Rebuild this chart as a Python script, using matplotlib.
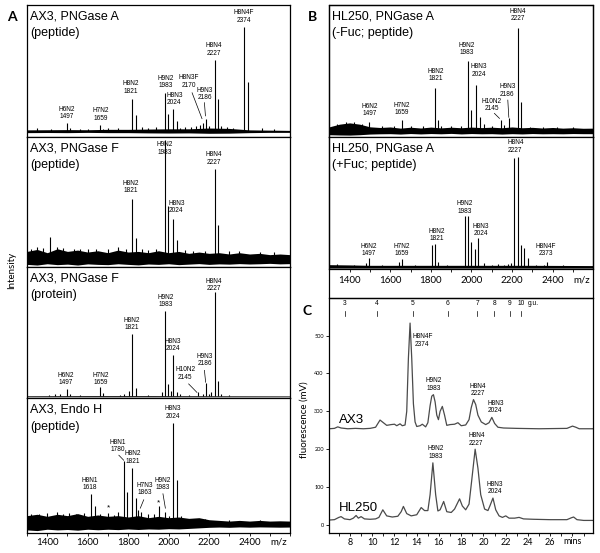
import matplotlib
matplotlib.use("Agg")
import matplotlib.pyplot as plt
from matplotlib.patches import Rectangle

plt.rcParams['font.family'] = ['Lato', 'DejaVu Sans']
plt.rcParams['axes.linewidth'] = 0.9
NARROW = ['Liberation Sans Narrow', 'Liberation Sans', 'DejaVu Sans']

W, H = 600, 553
MZ_LIM = (1300, 2600)
MZ_50 = list(range(1300, 2601, 50))

# ---- mass spectra; heights in % of panel height (0 = bottom frame, 100 = top frame)

# A1: AX3, PNGase A (peptide)
a1_mz = [1350, 1420, 1497, 1513, 1560, 1600, 1659, 1675, 1700, 1750,
         1821, 1837, 1870, 1900, 1940, 1983, 1999, 2024, 2040, 2056,
         2080, 2110, 2137, 2153, 2170, 2186, 2202, 2227, 2243, 2260,
         2290, 2320, 2374, 2390, 2460, 2520]
a1_h = [6.5, 6.2, 10.6, 6.5, 6.4, 6.0, 9.4, 6.2, 6.5, 6.8,
        28.6, 16.5, 7.5, 7.0, 7.5, 33.2, 17.7, 21.0, 12.2, 7.0,
        7.5, 7.2, 8.0, 9.0, 10.6, 13.9, 8.0, 58.2, 29.1, 8.0,
        7.5, 7.0, 83.5, 41.8, 6.5, 6.0]
a1_base = 4.3
a1_noise_mz = [1300, 1400, 1500, 1600, 1700, 1800, 1900, 2000, 2100, 2200, 2300, 2400, 2500, 2600]
a1_noise_lo = [3.3, 3.4, 3.3, 3.5, 3.3, 3.3, 3.1, 3.0, 3.1, 2.8, 2.9, 3.3, 3.5, 3.5]
a1_noise_hi = [5.4, 5.5, 5.6, 5.5, 5.8, 5.8, 6.0, 6.2, 6.2, 6.8, 6.5, 5.4, 5.2, 5.0]
a1_labels = [("H6N2\n1497", 1495, 18.2), ("H7N2\n1659", 1665, 17.0),
             ("H8N2\n1821", 1814, 37.5), ("H9N2\n1983", 1984, 41.5),
             ("H8N3\n2024", 2028, 28.9), ("H8N3F\n2170", 2099, 42.0),
             ("H9N3\n2186", 2177, 32.4), ("H8N4\n2227", 2223, 66.3),
             ("H8N4F\n2374", 2371, 91.1)]
a1_leaders = [((2116, 33.5), (2165, 13.9)), ((2177, 26.0), (2182, 16.0))]
a1_title = ("AX3, PNGase A", "(peptide)")

# A2: AX3, PNGase F (peptide)
a2_mz = [1320, 1350, 1380, 1416, 1450, 1480, 1530, 1560, 1600, 1640,
         1700, 1750, 1790, 1821, 1837, 1870, 1900, 1940, 1983, 1999,
         2024, 2040, 2080, 2120, 2180, 2227, 2243, 2300, 2350, 2450, 2520]
a2_h = [14, 15, 14.5, 23, 15, 14.5, 14, 13.5, 14, 13.5,
        14, 15, 14, 52.6, 22.6, 14, 13, 13.5, 97.4, 46.7,
        37.2, 20.5, 13, 12.5, 12.5, 75.6, 32.6, 12.5, 12, 11.5, 11.5]
a2_base = 7.0
a2_noise_mz = MZ_50
a2_noise_lo = [2, 1.5, 2.5, 1.8, 2.2, 1.5, 2.4, 2, 1.8, 2.5, 2, 1.6, 2.3, 2,
               2.5, 1.8, 2.2, 2.6, 2, 2.4, 2.2, 2.6, 2.3, 2.5, 2.8, 2.4, 2.6]
a2_noise_hi = [12, 13.5, 11, 14, 12, 13, 11.5, 12.5, 11, 13, 11.5, 12, 11, 12.5,
               11, 12, 10.5, 11.5, 10.5, 11, 10, 11, 10, 10.5, 9.5, 10, 9.5]
a2_labels = [("H8N2\n1821", 1814, 61.5), ("H9N2\n1983", 1979, 91.0),
             ("H8N3\n2024", 2038, 46.2), ("H8N4\n2227", 2224, 83.3)]
a2_leaders = []
a2_title = ("AX3, PNGase F", "(peptide)")

# A3: AX3, PNGase F (protein)
a3_mz = [1410, 1437, 1465, 1497, 1513, 1560, 1659, 1675, 1760, 1780,
         1805, 1821, 1837, 1900, 1966, 1983, 1999, 2012, 2024, 2040,
         2056, 2100, 2145, 2170, 2186, 2202, 2211, 2227, 2243, 2260, 2300]
a3_h = [2.0, 2.5, 2.5, 6.5, 3.0, 2.0, 7.8, 3.5, 2.0, 2.5,
        5.0, 48.8, 7.3, 2.0, 4.0, 66.2, 10.0, 5.0, 32.5, 4.0,
        2.5, 2.0, 4.0, 2.5, 11.0, 3.0, 4.0, 80.5, 13.0, 3.0, 1.8]
a3_base = 1.0
a3_noise_mz = [1300, 1600, 1900, 2200, 2600]
a3_noise_lo = [0.6, 0.6, 0.6, 0.6, 0.6]
a3_noise_hi = [1.3, 1.4, 1.4, 1.3, 1.2]
a3_labels = [("H6N2\n1497", 1490, 14.3), ("H7N2\n1659", 1665, 14.3),
             ("H8N2\n1821", 1819, 56.4), ("H9N2\n1983", 1984, 74.0),
             ("H8N3\n2024", 2022, 40.3), ("H10N2\n2145", 2083, 18.2),
             ("H9N3\n2186", 2180, 28.6), ("H8N4\n2227", 2223, 86.2)]
a3_leaders = [((2099, 10.4), (2140, 3.9)), ((2177, 20.8), (2183, 11.7))]
a3_title = ("AX3, PNGase F", "(protein)")

# A4: AX3, Endo H (peptide)
a4_mz = [1320, 1360, 1400, 1450, 1480, 1510, 1540, 1580, 1618, 1634,
         1660, 1701, 1730, 1750, 1780, 1796, 1821, 1837, 1850, 1863,
         1900, 1930, 1950, 1983, 2000, 2024, 2040, 2060, 2100, 2180, 2300, 2450]
a4_h = [14, 14.5, 15, 15.5, 14, 15, 14.5, 15, 29.1, 19.8,
        14.5, 15.3, 13.5, 15.5, 53.1, 30.4, 48.1, 25.9, 17, 16,
        14, 14.5, 19.8, 16, 13, 81.5, 39.5, 13, 10.5, 10.5, 10, 10]
a4_base = 7.4
a4_noise_mz = MZ_50
a4_noise_lo = [2.5, 2, 3, 2.5, 2.8, 2.3, 3, 2.6, 3, 2.7, 3.2, 2.8, 3.2, 3,
               3.4, 3.2, 3.6, 4, 4.4, 4.6, 4.4, 4.7, 4.5, 4.7, 4.6, 4.5, 4.6]
a4_noise_hi = [13, 14, 12.5, 14, 13, 14.5, 12.5, 13.5, 12.5, 13, 12, 13, 11.5, 12.5,
               11.5, 12, 11, 11.5, 10, 9.5, 9, 9.5, 9, 9.5, 9, 9.2, 9]
a4_labels = [("H8N1\n1618", 1610, 36.3), ("H8N1\n1780", 1749, 64.2),
             ("H8N2\n1821", 1824, 56.0), ("H7N3\n1863", 1880, 32.8),
             ("H9N2\n1983", 1972, 36.3), ("H8N3\n2024", 2022, 88.9),
             ("*", 1701, 19.0), ("*", 1948, 22.5)]
a4_leaders = [((1754, 57.5), (1778, 53.8)), ((1877, 24.7), (1860, 18.5)),
              ((1972, 29.1), (1984, 18.5))]
a4_title = ("AX3, Endo H", "(peptide)")

# B1: HL250, PNGase A (-Fuc; peptide)
b1_mz = [1340, 1380, 1420, 1460, 1497, 1560, 1620, 1659, 1700, 1760,
         1821, 1837, 1850, 1900, 1950, 1983, 1999, 2024, 2040, 2060,
         2100, 2145, 2160, 2186, 2227, 2243, 2290, 2350, 2420, 2500]
b1_h = [10, 11, 11, 10, 11.4, 8, 8, 12.7, 8, 8,
        36.7, 12.7, 8.5, 8, 8.5, 57.5, 20.3, 39.2, 15.2, 10,
        8.5, 12.7, 9, 13.9, 82.3, 26.6, 7.5, 7.5, 7, 7]
b1_base = 4.6
b1_noise_mz = MZ_50
b1_noise_lo = [1.5, 1.3, 1.2, 1.5, 2.0, 2.2, 2.3, 2.0, 2.4, 2.1, 2.4, 2.2, 2.5, 2.1,
               2.4, 2.2, 2.3, 2.0, 2.3, 2.1, 2.4, 2.2, 2.3, 2.2, 2.4, 2.3, 2.3]
b1_noise_hi = [7.5, 9.5, 10.5, 9.5, 7.5, 7.0, 7.4, 6.5, 7.2, 6.6, 7.3, 6.7, 7.2, 6.8,
               7.3, 6.9, 7.2, 6.8, 7.4, 6.8, 7.1, 6.6, 7.0, 6.5, 6.8, 6.4, 6.5]
b1_labels = [("H6N2\n1497", 1501, 20.3), ("H7N2\n1659", 1656, 21.0),
             ("H8N2\n1821", 1824, 46.8), ("H9N2\n1983", 1975, 66.6),
             ("H8N3\n2024", 2035, 50.1), ("H10N2\n2145", 2100, 24.1),
             ("H9N3\n2186", 2177, 34.9), ("H8N4\n2227", 2228, 92.4)]
b1_leaders = [((2113, 17.7), (2138, 13.9)), ((2179, 27.8), (2184, 14.7))]
b1_title = ("HL250, PNGase A", "(-Fuc; peptide)")

# B2: HL250, PNGase A (+Fuc; peptide)
b2_mz = [1340, 1420, 1480, 1497, 1560, 1643, 1659, 1720, 1805, 1821,
         1837, 1880, 1967, 1983, 1999, 2015, 2030, 2060, 2100, 2130,
         2160, 2180, 2195, 2211, 2227, 2243, 2259, 2280, 2320, 2357, 2373, 2450]
b2_h = [4, 3.5, 5, 8.3, 3.5, 5.8, 7.5, 3.5, 18.3, 18.8,
        5.8, 3.5, 40.2, 40.2, 20.9, 15.3, 23.4, 4.5, 3.5, 4,
        3.5, 4, 5, 83.7, 84.9, 18.3, 15.8, 8.3, 3.5, 3.5, 5.8, 3]
b2_base = 2.0
b2_noise_mz = [1300, 1400, 1500, 1700, 1900, 2100, 2300, 2600]
b2_noise_lo = [0.9, 0.9, 0.9, 0.9, 0.9, 0.9, 0.9, 0.9]
b2_noise_hi = [3.5, 3.3, 3.0, 3.0, 3.0, 3.0, 3.0, 2.8]
b2_labels = [("H6N2\n1497", 1494, 14.6), ("H7N2\n1659", 1658, 14.6),
             ("H8N2\n1821", 1829, 25.9), ("H9N2\n1983", 1966, 46.7),
             ("H8N3\n2024", 2045, 29.6), ("H8N4\n2227", 2216, 92.5),
             ("H8N4F\n2373", 2368, 14.6)]
b2_leaders = []
b2_title = ("HL250, PNGase A", "(+Fuc; peptide)")

# ---- C: HPLC traces (mins, mV)
ax3_t = [6.14, 6.6, 6.9, 7.2, 7.8, 8.5, 9.2, 9.8, 10.3, 10.7, 11.0, 11.3, 11.7, 12.0,
         12.2, 12.5, 12.7, 12.95, 13.1, 13.25, 13.4, 13.55, 13.7, 13.85, 14.0, 14.3,
         14.5, 14.8, 15.0, 15.2, 15.35, 15.5, 15.65, 15.8, 15.95, 16.1, 16.3, 16.5,
         16.7, 17.0, 17.4, 17.7, 18.0, 18.4, 18.7, 18.9, 19.1, 19.3, 19.5, 19.8, 20.2,
         20.5, 20.75, 21.0, 21.3, 21.8, 23.0, 25.0, 27.5, 28.0, 28.3, 28.6, 29.87]
ax3_mv = [254, 255, 259, 256, 254, 255, 254, 255, 258, 277, 270, 263, 265, 266,
          262, 267, 262, 264, 300, 440, 533, 440, 320, 272, 260, 262,
          266, 259, 270, 315, 340, 344, 325, 290, 278, 300, 313, 290,
          263, 265, 266, 270, 262, 264, 278, 310, 331, 318, 290, 272, 265,
          270, 284, 268, 258, 256, 255, 254, 255, 261, 258, 254, 254]
hl_t = [6.14, 6.6, 7.0, 7.2, 7.5, 8.0, 8.3, 8.55, 8.75, 9.0, 9.3, 9.8, 10.3, 10.6,
        10.95, 11.3, 11.8, 12.3, 12.6, 12.8, 13.1, 13.5, 14.0, 14.4, 14.7, 15.0,
        15.2, 15.45, 15.7, 15.9, 16.1, 16.42, 16.7, 17.1, 17.4, 17.85, 18.1, 18.4,
        18.7, 18.95, 19.25, 19.5, 19.75, 20.1, 20.4, 20.6, 20.85, 21.1, 21.4, 21.7,
        22.0, 22.3, 22.8, 23.2, 23.6, 24.5, 26.0, 27.5, 27.9, 28.1, 28.4, 29.0, 29.87]
hl_mv = [13, 14, 20, 22, 16, 14, 18, 25, 18, 22, 16, 15, 16, 20,
         40, 24, 21, 23, 35, 49, 30, 24, 27, 46, 38, 38,
         80, 164, 80, 37, 40, 62, 35, 33, 42, 69, 50, 40,
         55, 120, 200, 150, 80, 42, 38, 52, 71, 40, 24, 20,
         24, 18, 18, 20, 16, 15, 14, 14, 19, 21, 14, 12, 12]
c_labels = [("H8N4F\n2374", 14.49, 487), ("H9N2\n1983", 15.54, 371),
            ("H8N4\n2227", 19.47, 356), ("H8N3\n2024", 21.07, 312),
            ("H9N2\n1983", 15.66, 191), ("H8N4\n2227", 19.36, 226),
            ("H8N3\n2024", 21.0, 98)]
gu_pos = [7.55, 10.4, 13.65, 16.77, 19.42, 20.98, 22.36, 23.38]
gu_text = ['3', '4', '5', '6', '7', '8', '9', '10']


fig = plt.figure(figsize=(W / 100, H / 100), dpi=100)


def px_axes(x0, y0, x1, y1):
    return fig.add_axes([x0 / W, 1 - y1 / H, (x1 - x0) / W, (y1 - y0) / H])


def spectrum(ax, mz, h, base, nmz, nlo, nhi, labels, leaders, title):
    ax.set_xlim(*MZ_LIM)
    ax.set_ylim(0, 100)
    ax.fill_between(nmz, nlo, nhi, color='black', lw=0)
    ax.vlines(mz, base, h, color='black', lw=0.8)
    for t, x, y in labels:
        fs = 6 if t == '*' else 4.7
        ax.text(x, y, t, ha='center', va='center', fontsize=fs,
                family=NARROW, linespacing=1.1)
    for (x0, y0), (x1, y1) in leaders:
        ax.plot([x0, x1], [y0, y1], color='black', lw=0.5)
    ax.text(0.012, 0.91, title[0], transform=ax.transAxes, fontsize=9,
            family=NARROW, va='center')
    ax.text(0.012, 0.785, title[1], transform=ax.transAxes, fontsize=9,
            family=NARROW, va='center')
    ax.set_xticks([])
    ax.set_yticks([])


def mz_axis(ax, pad):
    ax.set_xticks(range(1400, 2401, 200))
    ax.set_xticks(range(1300, 2601, 100), minor=True)
    ax.tick_params(axis='x', which='both', direction='out', length=2,
                   width=0.6, labelsize=7, pad=pad)
    ax.annotate('m/z', xy=(2545, 0), xycoords=('data', 'axes fraction'),
                xytext=(0, -(pad + 4.5)), textcoords='offset points',
                ha='center', va='center', fontsize=7)


a1 = px_axes(27, 5, 290, 137)
a2 = px_axes(27, 137, 290, 267)
a3 = px_axes(27, 267, 290, 397.5)
a4 = px_axes(27, 397.5, 290, 533.3)
b1 = px_axes(329.3, 5, 593.3, 136.7)
b2 = px_axes(329.3, 136.7, 593.3, 269.3)
c = px_axes(329.3, 297.7, 593.3, 533.3)

spectrum(a1, a1_mz, a1_h, a1_base, a1_noise_mz, a1_noise_lo, a1_noise_hi, a1_labels, a1_leaders, a1_title)
spectrum(a2, a2_mz, a2_h, a2_base, a2_noise_mz, a2_noise_lo, a2_noise_hi, a2_labels, a2_leaders, a2_title)
spectrum(a3, a3_mz, a3_h, a3_base, a3_noise_mz, a3_noise_lo, a3_noise_hi, a3_labels, a3_leaders, a3_title)
spectrum(a4, a4_mz, a4_h, a4_base, a4_noise_mz, a4_noise_lo, a4_noise_hi, a4_labels, a4_leaders, a4_title)
spectrum(b1, b1_mz, b1_h, b1_base, b1_noise_mz, b1_noise_lo, b1_noise_hi, b1_labels, b1_leaders, b1_title)
spectrum(b2, b2_mz, b2_h, b2_base, b2_noise_mz, b2_noise_lo, b2_noise_hi, b2_labels, b2_leaders, b2_title)
mz_axis(a4, 1.5)
mz_axis(b2, 3)

# frame around column B (encloses the m/z tick labels)
fig.add_artist(Rectangle((329.3 / W, 1 - 297.7 / H), 264 / W, 292.7 / H,
                         transform=fig.transFigure, fill=False, lw=0.9, color='black'))

# ---- panel C
c.plot(ax3_t, ax3_mv, color='#4a4a4a', lw=0.9)
c.plot(hl_t, hl_mv, color='#4a4a4a', lw=0.9)
c.set_xlim(6.14, 29.87)
c.set_ylim(-22, 600)
c.set_xticks(range(8, 27, 2))
c.set_xticks(range(7, 30), minor=True)
c.set_yticks(range(0, 501, 100))
c.tick_params(axis='x', which='both', direction='out', length=2, width=0.6,
              labelsize=6.5, pad=1.5)
c.tick_params(axis='y', direction='out', length=2.5, width=0.6, labelsize=4,
              pad=1.5)
c.annotate('mins', xy=(28.05, 0), xycoords=('data', 'axes fraction'),
           xytext=(0, -6), textcoords='offset points', ha='center',
           va='center', fontsize=6.5)
for t, x, y in c_labels:
    c.text(x, y, t, ha='center', va='center', fontsize=4.7, family=NARROW,
           linespacing=1.1)
c.text(7.04, 278, 'AX3', fontsize=9.5, family=NARROW, va='center')
c.text(7.04, 44, 'HL250', fontsize=9.5, family=NARROW, va='center')
for g, lab in zip(gu_pos, gu_text):
    c.text(g, 586, lab, ha='center', va='center', fontsize=4.8, family=NARROW)
    c.plot([g, g], [551, 564], color='black', lw=0.5)
c.text(24.0, 586, 'g.u.', ha='left', va='center', fontsize=4.8, family=NARROW)

# ---- figure texts
fig.text(12 / W, 1 - 17 / H, 'A', fontsize=10, fontweight='bold', ha='center', va='center')
fig.text(313 / W, 1 - 17 / H, 'B', fontsize=10, fontweight='bold', ha='center', va='center')
fig.text(307 / W, 1 - 311 / H, 'C', fontsize=10, fontweight='bold', ha='center', va='center')
fig.text(12 / W, 1 - 270 / H, 'Intensity', rotation=90, fontsize=7, ha='center', va='center')
fig.text(304 / W, 1 - 420 / H, 'fluorescence (mV)', rotation=90, fontsize=7,
         ha='center', va='center')

fig.savefig('out.png', dpi=100)
